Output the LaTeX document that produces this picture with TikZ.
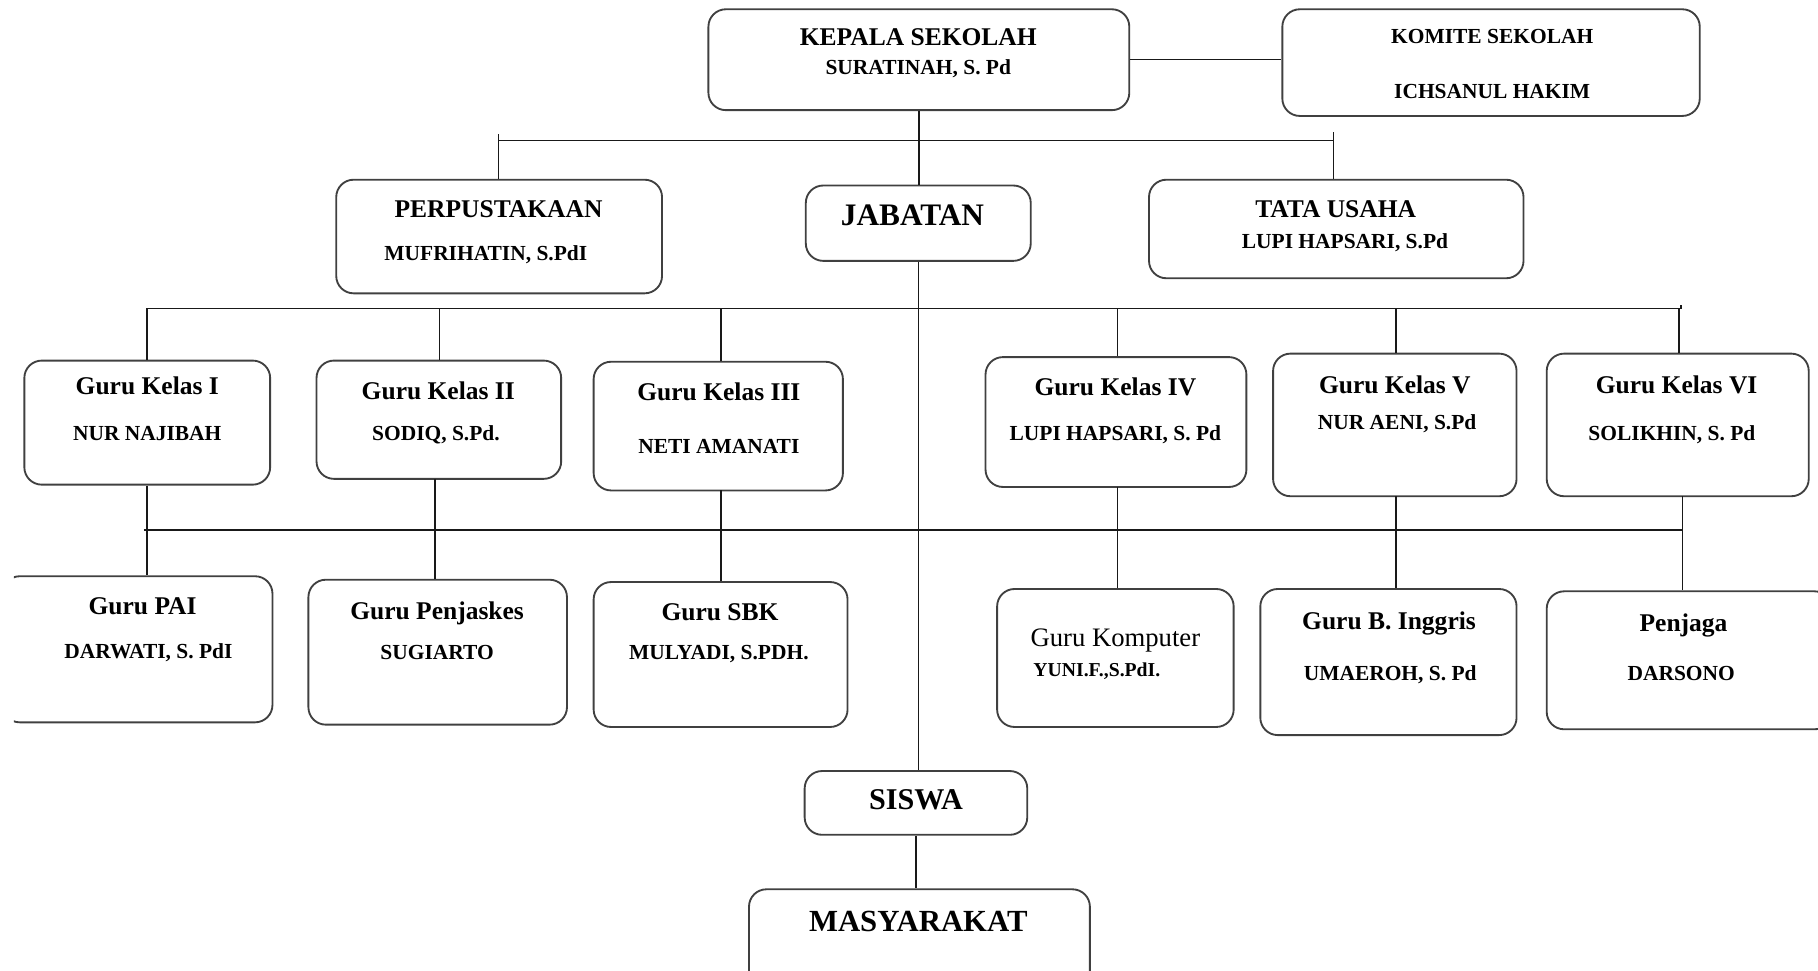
\documentclass[tikz,border=0pt]{standalone}
\usepackage{fontspec}
\setmainfont{Liberation Serif}
\begin{document}
\begin{tikzpicture}[x=1pt,y=-1pt,
  box/.style={draw=black!75, line width=1.6pt, rounded corners=15pt, inner sep=0pt},
  tx/.style={font=\bfseries\fontsize{#1}{#1}\selectfont, inner sep=0pt, anchor=base, yshift={-0.33*#1pt}},
  txr/.style={font=\fontsize{#1}{#1}\selectfont, inner sep=0pt, anchor=base, yshift={-0.33*#1pt}},
  ln/.style={line width=1.3pt, black!90}]
\useasboundingbox (0,0) rectangle (1568,837);
\clip (0,0) rectangle (1568,837);
% boxes
\node[box, minimum width=363pt, minimum height=87pt] (kepala) at (792.5,51.5) {};
\node[box, minimum width=360pt, minimum height=92pt] (komite) at (1286,54) {};
\node[box, minimum width=281pt, minimum height=98pt] (perpus) at (430.5,204) {};
\node[box, minimum width=194pt, minimum height=65pt] (jabatan) at (792,192.5) {};
\node[box, minimum width=323pt, minimum height=85pt] (tu) at (1152.5,197.5) {};
\node[box, minimum width=212pt, minimum height=107pt] (gk1) at (127,364.5) {};
\node[box, minimum width=211pt, minimum height=102pt] (gk2) at (378.5,362) {};
\node[box, minimum width=215pt, minimum height=111pt] (gk3) at (619.5,367.5) {};
\node[box, minimum width=225pt, minimum height=112pt] (gk4) at (962.5,364) {};
\node[box, minimum width=210pt, minimum height=123pt] (gk5) at (1203,366.5) {};
\node[box, minimum width=226pt, minimum height=123pt] (gk6) at (1447,366.5) {};
\begin{scope}
\clip (12,480) rectangle (300,650);
\node[box, minimum width=233pt, minimum height=126pt] (pai) at (118.5,560) {};
\end{scope}
\node[box, minimum width=223pt, minimum height=125pt] (penj) at (377.5,562.5) {};
\node[box, minimum width=219pt, minimum height=125pt] (sbk) at (621.5,564.5) {};
\node[box, minimum width=204pt, minimum height=119pt] (komp) at (962,567.5) {};
\node[box, minimum width=221pt, minimum height=126pt] (bing) at (1197.5,571) {};
\node[box, minimum width=246pt, minimum height=119pt] (penjaga) at (1457,569.5) {};
\node[box, minimum width=192pt, minimum height=55pt] (siswa) at (790,692.5) {};
\node[box, minimum width=294pt, minimum height=93pt] (masy) at (793,813.5) {};
% texts
\node[tx=22] (t1) at (792,32) {KEPALA SEKOLAH};
\node[tx=18.5] (t2) at (792,58) {SURATINAH, S. Pd};
\node[tx=18.5] (t3) at (1287,31) {KOMITE SEKOLAH};
\node[tx=18.5] (t4) at (1287,79) {ICHSANUL HAKIM};
\node[tx=22] (t5) at (430,180) {PERPUSTAKAAN};
\node[tx=18.5] (t6) at (419,219) {MUFRIHATIN, S.PdI};
\node[tx=27] (t7) at (787,186) {JABATAN};
\node[tx=22] (t8) at (1152,180) {TATA USAHA};
\node[tx=18.5] (t9) at (1160,208) {LUPI HAPSARI, S.Pd};
\node[tx=22] (g1a) at (127,333) {Guru Kelas I};
\node[tx=18.5] (g1b) at (127,374) {NUR NAJIBAH};
\node[tx=22] (g2a) at (378,337) {Guru Kelas II};
\node[tx=18.5] (g2b) at (376,374) {SODIQ, S.Pd.};
\node[tx=22] (g3a) at (620,338) {Guru Kelas III};
\node[tx=18.5] (g3b) at (620,385) {NETI AMANATI};
\node[tx=22] (g4a) at (962,334) {Guru Kelas IV};
\node[tx=18.5] (g4b) at (962,374) {LUPI HAPSARI, S. Pd};
\node[tx=22] (g5a) at (1203,332) {Guru Kelas V};
\node[tx=18.5] (g5b) at (1205,364) {NUR AENI, S.Pd};
\node[tx=22] (g6a) at (1446,332) {Guru Kelas VI};
\node[tx=18.5] (g6b) at (1442,374) {SOLIKHIN, S. Pd};
\node[tx=22] (p1a) at (123,523) {Guru PAI};
\node[tx=18.5] (p1b) at (128,562) {DARWATI, S. PdI};
\node[tx=22] (p2a) at (377,527) {Guru Penjaskes};
\node[tx=18.5] (p2b) at (377,563) {SUGIARTO};
\node[tx=22] (p3a) at (621,528) {Guru SBK};
\node[tx=18.5] (p3b) at (620,563) {MULYADI, S.PDH.};
\node[txr=23] (p4a) at (962,550) {Guru Komputer};
\node[tx=17] (p4b) at (946,578) {YUNI.F.,S.PdI.};
\node[tx=22] (p5a) at (1198,536) {Guru B. Inggris};
\node[tx=18.5] (p5b) at (1199,581) {UMAEROH, S. Pd};
\node[tx=22] (p6a) at (1452,537) {Penjaga};
\node[tx=18.5] (p6b) at (1450,581) {DARSONO};
\node[tx=26] (s1) at (790,690) {SISWA};
\node[tx=26.5] (m1) at (792,795) {MASYARAKAT};
% connector coordinates
\coordinate (barL) at (430,121);
\coordinate (barR) at (1150,121);
\coordinate (stubL) at (430,116);
\coordinate (stubR) at (1150,114);
\coordinate (r1L) at (127,266);
\coordinate (r1R) at (1450,266);
\coordinate (r1Rs) at (1450,263);
\coordinate (r2L) at (124,457);
\coordinate (r2R) at (1451,457);
% connectors
\draw[ln] (kepala.east) -- (kepala.east -| komite.west);
\draw[ln] (kepala.south) -- (kepala.south |- jabatan.north);
\draw[ln] (barL) -- (barR);
\draw[ln] (stubL) -- (stubL |- perpus.north);
\draw[ln] (stubR) -- (stubR |- tu.north);
\draw[ln] (jabatan.south) -- (jabatan.south |- siswa.north);
\draw[ln] (siswa.south) -- (siswa.south |- masy.north);
\draw[ln] (r1L) -- (r1R) -- (r1Rs);
\draw[ln] (gk1.north |- r1L) -- (gk1.north);
\draw[ln] (379,266) coordinate (v2) -- (v2 |- gk2.north);
\draw[ln] (622,266) coordinate (v3) -- (v3 |- gk3.north);
\draw[ln] (964,266) coordinate (v4) -- (v4 |- gk4.north);
\draw[ln] (1204,266) coordinate (v5) -- (v5 |- gk5.north);
\draw[ln] (1448,266) coordinate (v6) -- (v6 |- gk6.north);
\draw[ln] (r2L) -- (r2R);
\draw[ln] (gk1.south) -- (gk1.south |- pai.north);
\draw[ln] (375,413) coordinate (w2) -- (w2 |- penj.north);
\draw[ln] (622,423) coordinate (w3) -- (w3 |- sbk.north);
\draw[ln] (964,420) coordinate (w4) -- (w4 |- komp.north);
\draw[ln] (1204,428) coordinate (w5) -- (w5 |- bing.north);
\draw[ln] (1451,428) coordinate (w6) -- (w6 |- penjaga.north);
\end{tikzpicture}
\end{document}
